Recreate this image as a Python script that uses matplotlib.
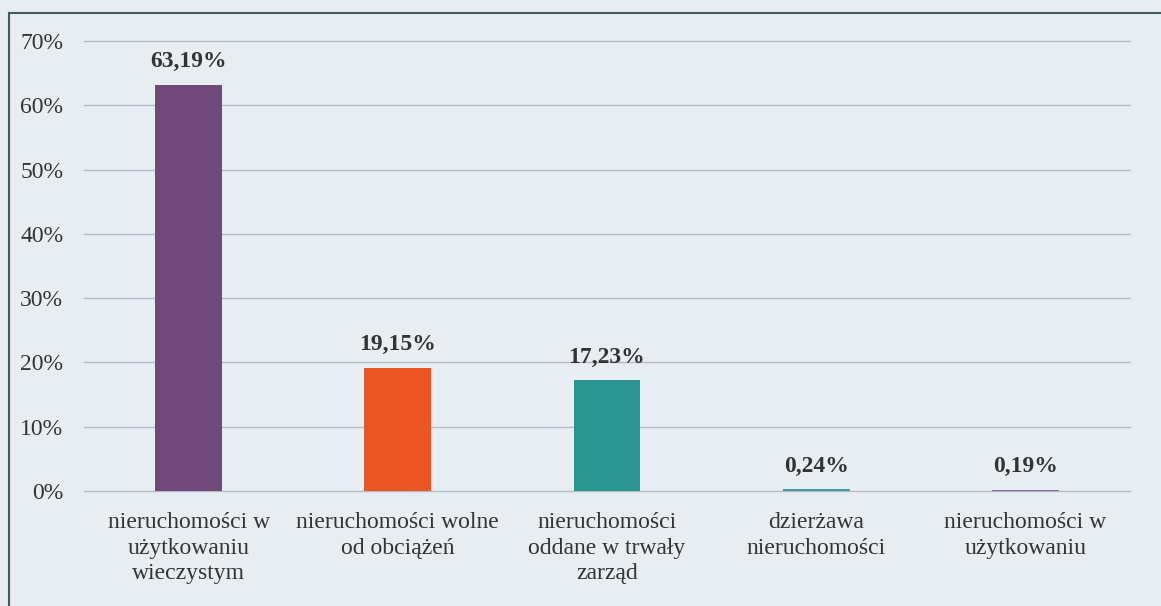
import matplotlib.pyplot as plt
import matplotlib.patches as patches
from matplotlib.ticker import FuncFormatter

categories = [
    "nieruchomości w\nużytkowaniu\nwieczystym",
    "nieruchomości wolne\nod obciążeń",
    "nieruchomości\noddane w trwały\nzarząd",
    "dzierżawa\nnieruchomości",
    "nieruchomości w\nużytkowaniu",
]
values = [63.19, 19.15, 17.23, 0.24, 0.19]
value_labels = ["63,19%", "19,15%", "17,23%", "0,24%", "0,19%"]
colors = ["#6f4a78", "#ea5526", "#2a948e", "#3f9aa0", "#8a6a94"]

plt.rcParams['font.family'] = ['Liberation Serif', 'DejaVu Serif']

fig = plt.figure(figsize=(11.61, 6.06), dpi=100)
fig.patch.set_facecolor('#e8edf2')
ax = fig.add_axes([84 / 1161, 1 - 491 / 606, 1046 / 1161, 450 / 606])
ax.set_facecolor('#e8edf2')

# outer frame of the scanned chart
frame = patches.Rectangle((9 / 1161, -0.05), 1.2, 1.05 - 13 / 606,
                          transform=fig.transFigure, fill=False,
                          edgecolor='#3c5e60', linewidth=1.5, clip_on=False)
fig.patches.append(frame)

x = range(len(categories))
bars = ax.bar(x, values, width=0.32, color=colors, zorder=3)

for xi, v, lab in zip(x, values, value_labels):
    ax.annotate(lab, (xi, v), xytext=(0, 9), textcoords='offset points',
                ha='center', va='bottom', fontsize=17, fontweight='bold',
                color='#333333')

ax.set_xlim(-0.5, len(categories) - 0.5)
ax.set_ylim(0, 70)
ax.set_yticks(range(0, 71, 10))
ax.yaxis.set_major_formatter(FuncFormatter(lambda v, p: f"{v:.0f}%"))
ax.grid(axis='y', color='#b7bbc9', linewidth=1.0, zorder=0)
for gl in ax.get_ygridlines():
    gl.set_clip_on(False)
ax.set_xticks(list(x))
ax.set_xticklabels(categories, fontsize=17, color='#333333', linespacing=1.3)
ax.tick_params(axis='y', labelsize=17, labelcolor='#333333', length=0, pad=15)
ax.tick_params(axis='x', length=0, pad=15)
for s in ax.spines.values():
    s.set_visible(False)

fig.savefig('out.png', dpi=100, facecolor=fig.get_facecolor())
